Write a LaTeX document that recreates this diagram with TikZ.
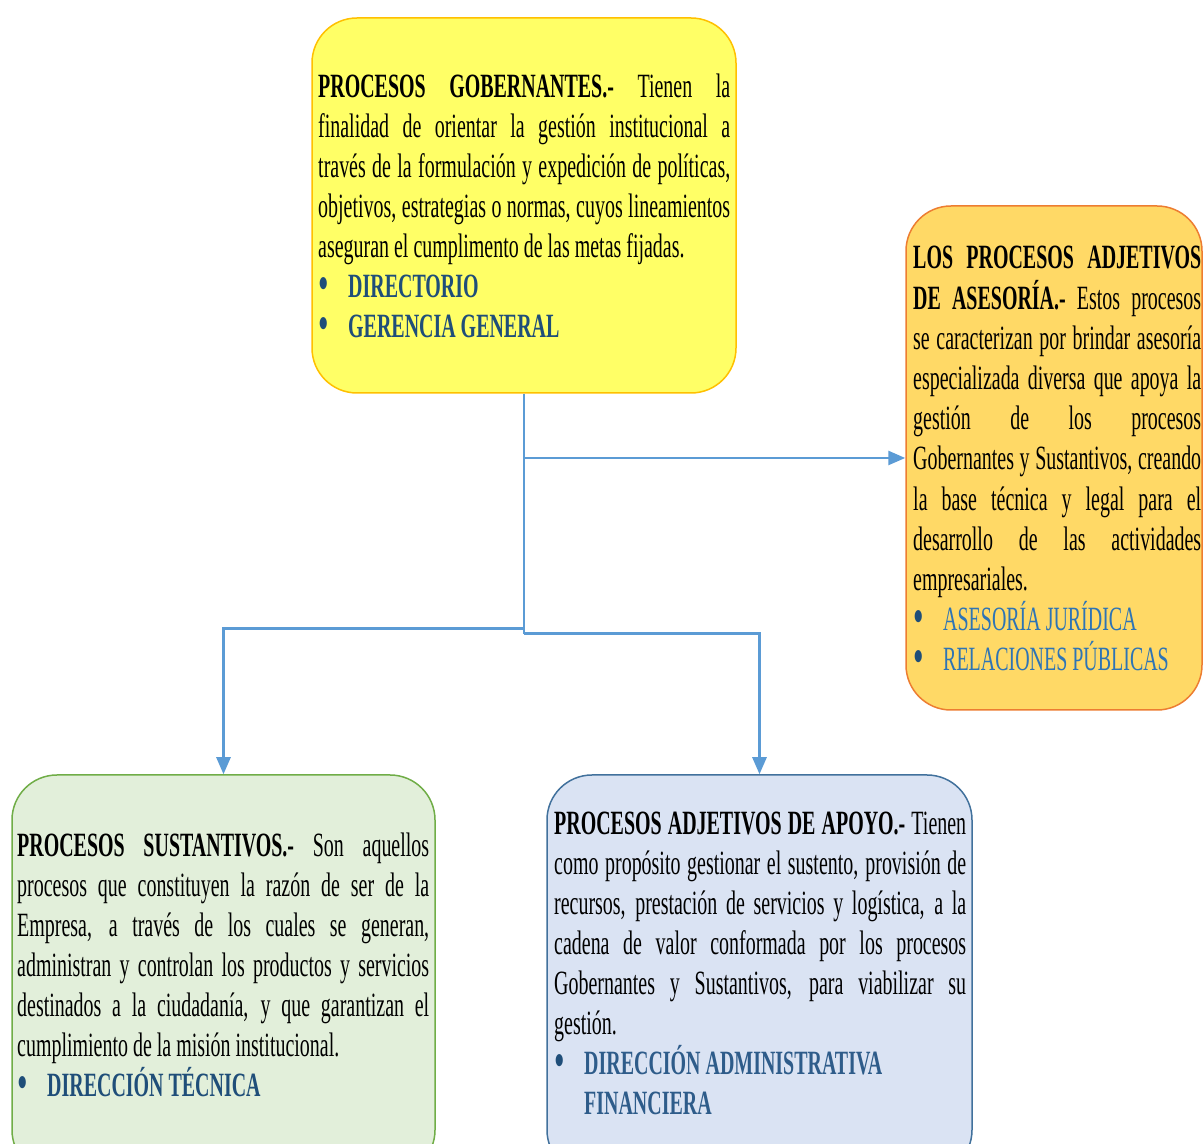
\documentclass[tikz,border=0pt]{standalone}
\usepackage{fontspec}
\setmainfont{Liberation Serif}[FakeStretch=0.587]
\usetikzlibrary{arrows.meta,calc}
\definecolor{yfill}{HTML}{FFFF66}
\definecolor{yline}{HTML}{FFC000}
\definecolor{ofill}{HTML}{FFD966}
\definecolor{oline}{HTML}{ED7D31}
\definecolor{gfill}{HTML}{E2EFDA}
\definecolor{gline}{HTML}{70AD47}
\definecolor{bfill}{HTML}{DAE3F3}
\definecolor{bline}{HTML}{41719C}
\definecolor{conncol}{HTML}{5B9BD5}
\definecolor{itemdark}{HTML}{1F4E79}
\definecolor{itemmid}{HTML}{2E5C8A}
\definecolor{itemlight}{HTML}{2E74B5}
\newcommand\JL[1]{\hbox to \hsize{#1}}
\newcommand\NL[1]{\hbox{#1}}
\newcommand\BL[2]{\hbox{\hbox to 30pt{\color{itemdark}\smash{\raisebox{-2.5pt}{\scalebox{1.5}{\textbullet}}}\hss}{#1#2}}}
\newcommand\IL[2]{\hbox{\hskip30pt{#1#2}}}
\newcommand\Para[3]{\vtop{\hsize=#1\baselineskip=#2\lineskiplimit=-1000pt #3}}
\tikzset{
  box/.style={rounded corners=45pt, line width=1.5pt, inner sep=0pt},
  txt/.style={anchor=base west, inner sep=0pt, font=\fontsize{34}{40}\selectfont},
  conn/.style={draw=conncol, line width=2.6pt},
  arr/.style={-{Triangle[width=14pt,length=17pt]}}
}
\begin{document}
\begin{tikzpicture}[x=1pt,y=1pt]
\useasboundingbox (0,0) rectangle (1203,1144);
\clip (0,0) rectangle (1203,1144);
\fill[white] (0,0) rectangle (1203,1144);
% boxes
\node[box, fill=yfill, draw=yline, minimum width=424pt, minimum height=375pt] (gob) at (524,938.5) {};
\node[box, fill=ofill, draw=oline, minimum width=296pt, minimum height=504pt] (adj) at (1054,686) {};
\node[box, fill=gfill, draw=gline, minimum width=423pt, minimum height=400pt] (sus) at (223.5,169) {};
\node[box, fill=bfill, draw=bline, minimum width=425pt, minimum height=400pt] (apo) at (759.5,169) {};
% connectors
\coordinate (jR) at ($(gob.south)+(0,-240)$);
\coordinate (jL) at ($(gob.south)+(0,-235)$);
\draw[conn] (gob.south) -- (jR);
\draw[conn,arr] (gob.south |- adj.west) -- (adj.west);
\draw[conn,arr] (jL) -| (sus.north);
\draw[conn,arr] (jR) -| (apo.north);
% texts
\node[txt] (tgob) at (318,1046) {\Para{412pt}{40pt}{%
\JL{\textbf{PROCESOS GOBERNANTES.-} Tienen la}
\JL{finalidad de orientar la gestión institucional a}
\JL{través de la formulación y expedición de políticas,}
\JL{objetivos, estrategias o normas, cuyos lineamientos}
\NL{aseguran el cumplimento de las metas fijadas.}
\BL{\color{itemdark}\bfseries}{DIRECTORIO}
\BL{\color{itemdark}\bfseries}{GERENCIA GENERAL}}};
\node[txt] (tadj) at (913,875) {\Para{288pt}{40.2pt}{%
\JL{\textbf{LOS PROCESOS ADJETIVOS}}
\JL{\textbf{DE ASESORÍA.-} Estos procesos}
\JL{se caracterizan por brindar asesoría}
\JL{especializada diversa que apoya la}
\JL{gestión de los procesos}
\JL{Gobernantes y Sustantivos, creando}
\JL{la base técnica y legal para el}
\JL{desarrollo de las actividades}
\NL{empresariales.}
\BL{\color{itemlight}}{ASESORÍA JURÍDICA}
\BL{\color{itemlight}}{RELACIONES PÚBLICAS}}};
\node[txt] (tsus) at (17,287) {\Para{412pt}{40pt}{%
\JL{\textbf{PROCESOS SUSTANTIVOS.-} Son aquellos}
\JL{procesos que constituyen la razón de ser de la}
\JL{Empresa, a través de los cuales se generan,}
\JL{administran y controlan los productos y servicios}
\JL{destinados a la ciudadanía, y que garantizan el}
\NL{cumplimiento de la misión institucional.}
\BL{\color{itemdark}\bfseries}{DIRECCIÓN TÉCNICA}}};
\node[txt] (tapo) at (554,309) {\Para{412pt}{40pt}{%
\JL{\textbf{PROCESOS ADJETIVOS DE APOYO.-} Tienen}
\JL{como propósito gestionar el sustento, provisión de}
\JL{recursos, prestación de servicios y logística, a la}
\JL{cadena de valor conformada por los procesos}
\JL{Gobernantes y Sustantivos, para viabilizar su}
\NL{gestión.}
\BL{\color{itemmid}\bfseries}{DIRECCIÓN ADMINISTRATIVA}
\IL{\color{itemmid}\bfseries}{FINANCIERA}}};
\end{tikzpicture}
\end{document}
